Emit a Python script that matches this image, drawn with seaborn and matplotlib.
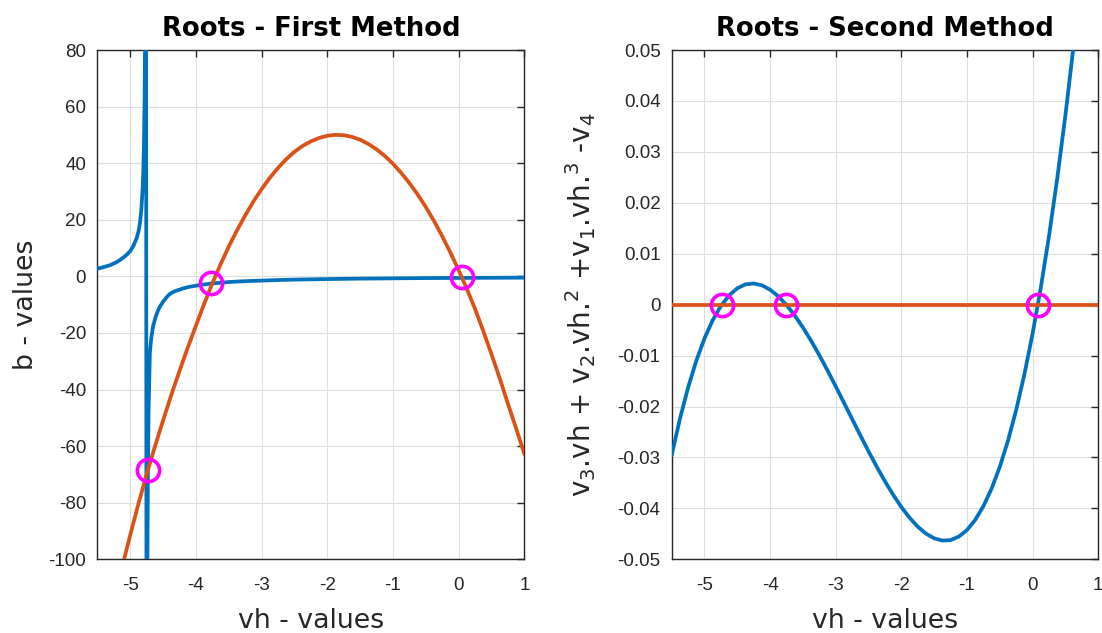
import matplotlib
matplotlib.use("Agg")
import matplotlib.pyplot as plt
import pandas as pd
import seaborn as sns
from matplotlib.ticker import FuncFormatter

# ---------------- data ----------------
# Left panel, blue curve (b-values, with asymptote near vh = -4.755)
vh_blue = [-5.5, -5.4, -5.3, -5.2, -5.1, -5.05, -5.0, -4.95, -4.9, -4.87,
           -4.85, -4.83, -4.81, -4.80, -4.79, -4.78, -4.77, -4.76,
           -4.75, -4.74, -4.73, -4.72, -4.70, -4.68, -4.65, -4.62, -4.60,
           -4.575, -4.55, -4.50, -4.45, -4.40, -4.35, -4.30, -4.20, -4.10,
           -4.00, -3.875, -3.75, -3.50, -3.25, -3.00, -2.75, -2.50, -2.00,
           -1.50, -1.00, -0.50, 0.00, 0.50, 1.00]
b_blue = [2.7, 3.3, 4.0, 5.1, 6.7, 7.7, 8.9, 10.8, 13.6, 16.2,
          19.0, 23.5, 31.0, 37.0, 47.0, 63.0, 92.0, 200.0,
          -200.0, -110.0, -70.0, -48.0, -27.0, -22.0, -17.5, -15.0, -13.5,
          -12.0, -10.8, -9.0, -7.5, -6.3, -5.6, -5.1, -4.3, -3.7,
          -3.3, -2.85, -2.5, -2.0, -1.7, -1.5, -1.3, -1.15, -0.95,
          -0.8, -0.7, -0.6, -0.55, -0.5, -0.45]

# Left panel, orange curve
vh_orange = [-5.5, -5.375, -5.25, -5.125, -5.0, -4.875, -4.75, -4.625, -4.5,
             -4.375, -4.25, -4.125, -4.0, -3.875, -3.75, -3.625, -3.5, -3.375,
             -3.25, -3.125, -3.0, -2.875, -2.75, -2.625, -2.5, -2.375, -2.25,
             -2.125, -2.0, -1.875, -1.75, -1.625, -1.5, -1.375, -1.25, -1.125,
             -1.0, -0.875, -0.75, -0.625, -0.5, -0.375, -0.25, -0.125, 0.0,
             0.125, 0.25, 0.375, 0.5, 0.625, 0.75, 0.875, 1.0]
b_orange = [-139.0, -126.8, -115.0, -103.0, -91.5, -80.5, -70.0, -60.3, -51.0,
            -42.0, -33.5, -25.3, -17.5, -9.8, -2.5, 4.2, 10.5, 16.2,
            21.5, 26.4, 30.8, 34.8, 38.3, 41.4, 44.0, 46.1, 47.7,
            48.9, 49.7, 50.0, 49.9, 49.3, 48.3, 46.8, 44.9, 42.6,
            39.8, 36.6, 33.0, 29.0, 24.5, 19.6, 14.2, 8.4, 2.2,
            -4.4, -11.5, -19.3, -27.5, -36.0, -45.0, -53.7, -62.8]

# Right panel, blue cubic
vh_cubic = [-5.5, -5.375, -5.25, -5.125, -5.0, -4.875, -4.75, -4.625, -4.5,
            -4.375, -4.25, -4.125, -4.0, -3.875, -3.75, -3.625, -3.5, -3.375,
            -3.25, -3.125, -3.0, -2.875, -2.75, -2.625, -2.5, -2.375, -2.25,
            -2.125, -2.0, -1.875, -1.75, -1.625, -1.5, -1.375, -1.25, -1.125,
            -1.0, -0.875, -0.75, -0.625, -0.5, -0.375, -0.25, -0.125, 0.0,
            0.125, 0.25, 0.375, 0.5, 0.625, 0.75]
f_cubic = [-0.02959, -0.02245, -0.01628, -0.01102, -0.00663, -0.00305,
           -0.00025, 0.00183, 0.00322, 0.00399, 0.00416, 0.00380, 0.00294,
           0.00164, -0.00006, -0.00212, -0.00448, -0.00710, -0.00993,
           -0.01293, -0.01605, -0.01925, -0.02247, -0.02567, -0.02881,
           -0.03183, -0.03469, -0.03734, -0.03974, -0.04184, -0.04360,
           -0.04496, -0.04588, -0.04632, -0.04622, -0.04554, -0.04424,
           -0.04226, -0.03956, -0.03610, -0.03183, -0.02669, -0.02065,
           -0.01366, -0.00566, 0.00338, 0.01351, 0.02478, 0.03724,
           0.05093, 0.06590]

# Right panel, orange zero line
vh_zero = [-5.5, 1.0]
f_zero = [0.0, 0.0]

# Roots (magenta circles)
roots1_vh = [-4.735, -3.765, 0.055]
roots1_b = [-68.5, -2.5, -0.4]
roots2_vh = [-4.737, -3.754, 0.08]
roots2_f = [0.0, 0.0, 0.0]

xticks = [-5, -4, -3, -2, -1, 0, 1]
yticks_left = [-100, -80, -60, -40, -20, 0, 20, 40, 60, 80]
yticks_right = [-0.05, -0.04, -0.03, -0.02, -0.01, 0.0, 0.01, 0.02, 0.03, 0.04, 0.05]

titles = ["Roots - First Method", "Roots - Second Method"]
xlabel = "vh - values"
ylabel_left = "b - values"
ylabel_right = (r"v$_\mathregular{3}$.vh + v$_\mathregular{2}$.vh.$^\mathregular{2}$"
                r" +v$_\mathregular{1}$.vh.$^\mathregular{3}$ -v$_\mathregular{4}$")

# ---------------- style ----------------
sns.set_style("white")
plt.rcParams["font.family"] = ["Liberation Sans", "DejaVu Sans"]
plt.rcParams["axes.unicode_minus"] = False

LABEL_FONT = ["DejaVu Sans"]
BLUE = "#0072BD"
ORANGE = "#D95319"
MAGENTA = "#FF00FF"
AXC = "#262626"
GRIDC = "#dedede"
LW = 2.7

fig = plt.figure(figsize=(11.02, 6.33), dpi=100)
ax1 = fig.add_axes([0.0883, 0.1164, 0.3875, 0.8046])
ax2 = fig.add_axes([0.6095, 0.1164, 0.3871, 0.8046])

df_blue = pd.DataFrame({"vh": vh_blue, "b": b_blue})
df_orange = pd.DataFrame({"vh": vh_orange, "b": b_orange})
df_cubic = pd.DataFrame({"vh": vh_cubic, "f": f_cubic})
df_zero = pd.DataFrame({"vh": vh_zero, "f": f_zero})

sns.lineplot(data=df_blue, x="vh", y="b", ax=ax1, color=BLUE, linewidth=LW,
             sort=False, estimator=None, zorder=3)
sns.lineplot(data=df_orange, x="vh", y="b", ax=ax1, color=ORANGE, linewidth=LW,
             sort=False, estimator=None, zorder=3)
ax1.plot(roots1_vh, roots1_b, linestyle="none", marker="o", markersize=16,
         markerfacecolor="none", markeredgecolor=MAGENTA, markeredgewidth=2.6, zorder=4)

sns.lineplot(data=df_cubic, x="vh", y="f", ax=ax2, color=BLUE, linewidth=LW,
             sort=False, estimator=None, zorder=3)
sns.lineplot(data=df_zero, x="vh", y="f", ax=ax2, color=ORANGE, linewidth=LW,
             sort=False, estimator=None, zorder=3)
ax2.plot(roots2_vh, roots2_f, linestyle="none", marker="o", markersize=16,
         markerfacecolor="none", markeredgecolor=MAGENTA, markeredgewidth=2.6, zorder=4)

ax1.set_ylim(-100, 80)
ax2.set_ylim(-0.05, 0.05)
ax1.set_yticks(yticks_left)
ax2.set_yticks(yticks_right)
ax1.yaxis.set_major_formatter(FuncFormatter(lambda v, p: f"{v:.0f}"))
ax2.yaxis.set_major_formatter(
    FuncFormatter(lambda v, p: "0" if abs(v) < 1e-9 else f"{v:.2f}"))

for ax, title in zip((ax1, ax2), titles):
    ax.set_xlim(-5.5, 1)
    ax.set_xticks(xticks)
    ax.grid(True, color=GRIDC, linewidth=0.8)
    ax.set_axisbelow(True)
    for s in ax.spines.values():
        s.set_visible(True)
        s.set_color(AXC)
        s.set_linewidth(1.0)
    ax.tick_params(axis="both", which="major", direction="in", length=5,
                   width=1.0, color=AXC, labelcolor=AXC, labelsize=13.5,
                   top=True, right=True)
    ax.tick_params(axis="x", pad=12.5)
    ax.tick_params(axis="y", pad=8)
    ax.set_title(title, fontsize=18.6, fontweight="bold", color="black", pad=10,
                 family=LABEL_FONT)
    ax.set_xlabel(xlabel, fontsize=19.3, color=AXC, labelpad=10, family=LABEL_FONT)

ax1.set_ylabel(ylabel_left, fontsize=19.3, color=AXC, labelpad=7, family=LABEL_FONT)
ax2.set_ylabel(ylabel_right, fontsize=20, color=AXC, labelpad=14, family=LABEL_FONT)

fig.savefig("out.png", dpi=100)
